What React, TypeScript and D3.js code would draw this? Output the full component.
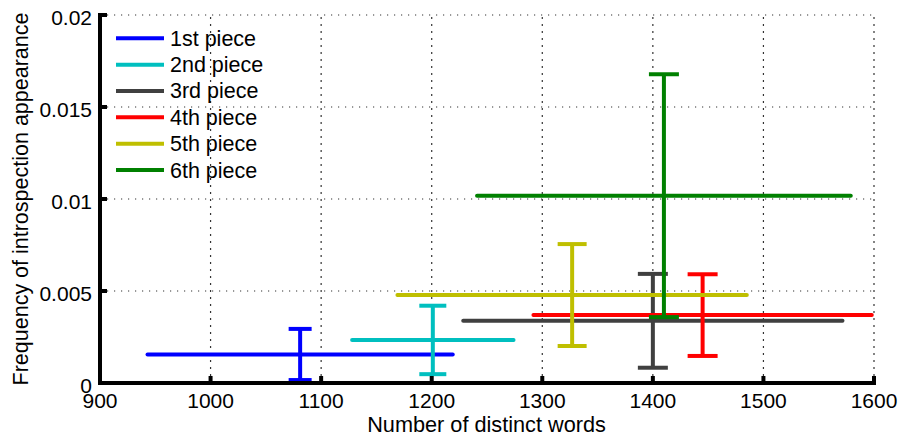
import React from "react";
import * as d3 from "d3";

const categories = ["1st piece", "2nd piece", "3rd piece", "4th piece", "5th piece", "6th piece"];
const xMean = [1081, 1201, 1400, 1445, 1327, 1410];
const xErr = [138, 73, 171.5, 153, 158, 169];
const yMean = [0.00155, 0.00234, 0.00338, 0.00369, 0.00478, 0.01018];
const yErr = [0.00139, 0.00186, 0.00255, 0.00222, 0.00277, 0.0066];
const colors = ["#0000FF", "#00BFBF", "#404040", "#FF0000", "#BFBF00", "#008000"];
const capHalf = [11.5, 13.5, 15, 15, 14.5, 15];

const xTicks = [900, 1000, 1100, 1200, 1300, 1400, 1500, 1600];
const yTicks = [0, 0.005, 0.01, 0.015, 0.02];
const yTickLabels = ["0", "0.005", "0.01", "0.015", "0.02"];

const W = 899;
const H = 437;
const FONT = "'Liberation Sans', Arial, Helvetica, sans-serif";

export default function App() {
  const x = d3.scaleLinear().domain([900, 1600]).range([100, 874]);
  const y = d3.scaleLinear().domain([0, 0.02]).range([383, 15]);
  const [x0, x1] = x.range();
  const [y0, y1] = y.range();

  return (
    <svg
      width={W}
      height={H}
      style={{ position: "absolute", left: 0, top: 0, background: "#fff" }}
      fontFamily={FONT}
    >
      <rect x={0} y={0} width={W} height={H} fill="#fff" />
      {/* grid */}
      {xTicks.slice(1).map((t) => (
        <line
          key={"gx" + t}
          x1={x(t)}
          x2={x(t)}
          y1={y0}
          y2={y1}
          stroke="#333"
          strokeWidth={1.2}
          strokeDasharray="2,5"
        />
      ))}
      {yTicks.slice(1).map((t) => (
        <line
          key={"gy" + t}
          x1={x0}
          x2={x1}
          y1={y(t)}
          y2={y(t)}
          stroke="#333"
          strokeWidth={1.2}
          strokeDasharray="1.2,5.8"
        />
      ))}

      {/* error bars */}
      {categories.map((c, i) => {
        const cx = x(xMean[i]);
        const cy = y(yMean[i]);
        const xl = x(xMean[i] - xErr[i]);
        const xr = x(xMean[i] + xErr[i]);
        const yt = y(yMean[i] + yErr[i]);
        const yb = y(yMean[i] - yErr[i]);
        const ch = capHalf[i];
        return (
          <g key={c} stroke={colors[i]} strokeWidth={4} fill="none">
            <line x1={xl} x2={xr} y1={cy} y2={cy} strokeLinecap="round" />
            <line x1={cx} x2={cx} y1={yt} y2={yb} />
            <line x1={cx - ch} x2={cx + ch} y1={yt} y2={yt} />
            <line x1={cx - ch} x2={cx + ch} y1={yb} y2={yb} />
          </g>
        );
      })}

      {/* axes */}
      <line x1={x0} x2={x1 + 2} y1={y0} y2={y0} stroke="#000" strokeWidth={4} />
      <line x1={x0} x2={x0} y1={y0 + 2} y2={y1 - 2} stroke="#000" strokeWidth={4} />
      {xTicks.map((t) => (
        <g key={"xt" + t}>
          <line x1={x(t)} x2={x(t)} y1={y0} y2={y0 - 7} stroke="#000" strokeWidth={4} />
          <text x={x(t)} y={407.5} textAnchor="middle" fontSize={21} fill="#000">
            {String(t)}
          </text>
        </g>
      ))}
      {yTicks.map((t, i) => (
        <g key={"yt" + t}>
          <line x1={x0} x2={x0 + 7} y1={y(t)} y2={y(t)} stroke="#000" strokeWidth={4} />
          <text x={92} y={y(t) + 10} textAnchor="end" fontSize={21} fill="#000">
            {yTickLabels[i]}
          </text>
        </g>
      ))}

      {/* axis titles */}
      <text x={486.5} y={432} textAnchor="middle" fontSize={21.7} fill="#000">
        Number of distinct words
      </text>
      <text
        transform={`translate(28,${(y0 + y1) / 2}) rotate(-90)`}
        textAnchor="middle"
        fontSize={21.5}
        fill="#000"
      >
        Frequency of introspection appearance
      </text>

      {/* legend */}
      {categories.map((c, i) => {
        const ly = 38.3 + i * 26.34;
        return (
          <g key={"lg" + c}>
            <line x1={116} x2={164} y1={ly} y2={ly} stroke={colors[i]} strokeWidth={4} />
            <text x={170} y={ly + 7.5} fontSize={21.5} fill="#000">
              {c}
            </text>
          </g>
        );
      })}
    </svg>
  );
}
